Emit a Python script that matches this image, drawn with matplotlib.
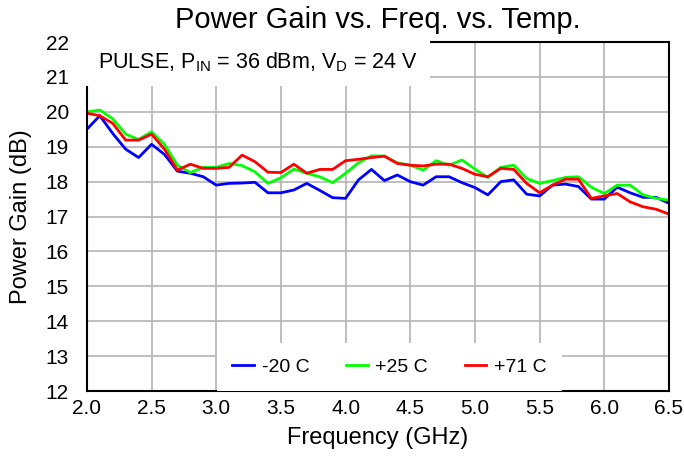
import matplotlib
matplotlib.use("Agg")
import matplotlib.pyplot as plt

plt.rcParams["font.family"] = ["Liberation Sans", "DejaVu Sans"]
plt.rcParams["mathtext.fontset"] = "custom"
plt.rcParams["mathtext.rm"] = "Liberation Sans"

freq = [2.0, 2.1, 2.2, 2.3, 2.4, 2.5, 2.6, 2.7, 2.8, 2.9,
        3.0, 3.1, 3.2, 3.3, 3.4, 3.5, 3.6, 3.7, 3.8, 3.9,
        4.0, 4.1, 4.2, 4.3, 4.4, 4.5, 4.6, 4.7, 4.8, 4.9,
        5.0, 5.1, 5.2, 5.3, 5.4, 5.5, 5.6, 5.7, 5.8, 5.9,
        6.0, 6.1, 6.2, 6.3, 6.4, 6.5]

gain_m20 = [19.50, 19.89, 19.38, 18.93, 18.69, 19.07, 18.78, 18.30, 18.24, 18.14,
            17.90, 17.95, 17.96, 17.98, 17.68, 17.68, 17.76, 17.95, 17.75, 17.54,
            17.52, 18.05, 18.35, 18.03, 18.19, 18.00, 17.90, 18.14, 18.14, 17.97,
            17.83, 17.62, 18.00, 18.05, 17.64, 17.59, 17.90, 17.93, 17.86, 17.50,
            17.50, 17.84, 17.68, 17.55, 17.55, 17.38]

gain_25 = [20.00, 20.05, 19.80, 19.36, 19.21, 19.43, 19.07, 18.47, 18.26, 18.41,
           18.41, 18.52, 18.46, 18.28, 17.95, 18.11, 18.36, 18.24, 18.14, 17.97,
           18.24, 18.54, 18.74, 18.73, 18.54, 18.47, 18.33, 18.60, 18.47, 18.62,
           18.36, 18.12, 18.41, 18.47, 18.09, 17.95, 18.03, 18.12, 18.14, 17.84,
           17.66, 17.90, 17.90, 17.62, 17.52, 17.47]

gain_71 = [19.96, 19.89, 19.67, 19.19, 19.19, 19.36, 18.93, 18.33, 18.50, 18.38,
           18.38, 18.41, 18.76, 18.57, 18.27, 18.26, 18.50, 18.24, 18.35, 18.35,
           18.60, 18.64, 18.69, 18.73, 18.52, 18.47, 18.45, 18.50, 18.50, 18.38,
           18.21, 18.14, 18.38, 18.35, 17.95, 17.68, 17.90, 18.07, 18.07, 17.52,
           17.59, 17.66, 17.42, 17.28, 17.21, 17.07]

fig = plt.figure(figsize=(6.84, 4.57), dpi=100)
ax = fig.add_axes([0.127, 0.1444, 0.851, 0.7636])

ax.plot(freq, gain_m20, color="#0000ff", lw=2.0, label="-20 C")
ax.plot(freq, gain_25, color="#00ff00", lw=2.0, label="+25 C")
ax.plot(freq, gain_71, color="#ff0000", lw=2.0, label="+71 C")

ax.set_xlim(2.0, 6.5)
ax.set_ylim(12, 22)
ax.set_xticks([2.0, 2.5, 3.0, 3.5, 4.0, 4.5, 5.0, 5.5, 6.0, 6.5])
ax.set_yticks(range(12, 23))
ax.xaxis.set_major_formatter(matplotlib.ticker.FormatStrFormatter("%.1f"))
ax.grid(True, color="#b4b4b4", lw=1.2)
ax.set_axisbelow(True)
ax.tick_params(length=0, labelsize=15)
ax.tick_params(axis="y", pad=13)
ax.tick_params(axis="x", pad=6)
for s in ax.spines.values():
    s.set_linewidth(1.5)
    s.set_color("black")

ax.set_title("Power Gain vs. Freq. vs. Temp.", fontsize=21, pad=10)
ax.set_xlabel("Frequency (GHz)", fontsize=17, labelpad=6)
ax.set_ylabel("Power Gain (dB)", fontsize=17, labelpad=10)

ax.text(0.019, 0.943, r"PULSE, P$_{\mathrm{IN}}$ = 36 dBm, V$_{\mathrm{D}}$ = 24 V",
        transform=ax.transAxes, fontsize=15.5, va="center", ha="left",
        bbox=dict(facecolor="white", edgecolor="none", pad=9))

leg = ax.legend(loc="center", bbox_to_anchor=(0.52, 0.069), ncol=3, fontsize=14,
                frameon=True, fancybox=False, handlelength=1.1, handletextpad=0.4,
                columnspacing=1.9, borderpad=0.8)
leg.get_frame().set_facecolor("white")
leg.get_frame().set_edgecolor("none")
leg.get_frame().set_alpha(1.0)

fig.savefig("out.png", dpi=100)
